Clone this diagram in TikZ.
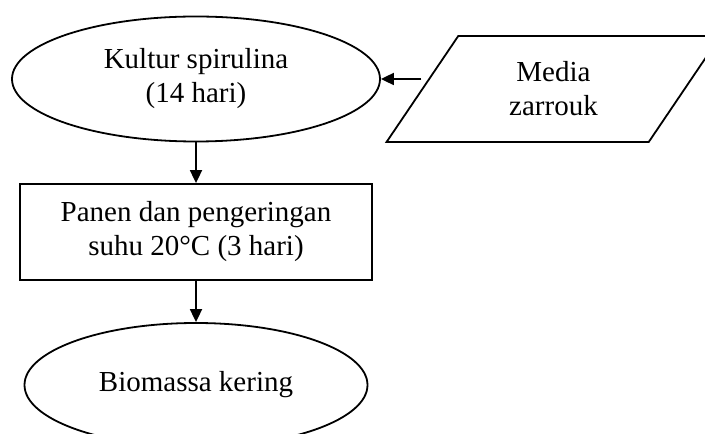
\documentclass[tikz,border=0pt]{standalone}
\usepackage{fontspec}
\setmainfont{Liberation Serif}
\usepackage{tikz}
\usetikzlibrary{shapes.geometric, arrows.meta}

\begin{document}
\begin{tikzpicture}[x = 1pt, y = 1pt, line width = 1.8pt,
        font = \fontsize{29}{34}\selectfont,
        oval/.style = {draw, ellipse, inner sep = 0pt, align = center},
        box/.style = {draw, rectangle, inner sep = 0pt, align = center},
        input/.style = {draw, trapezium, trapezium stretches = true, trapezium left angle = 58.5, trapezium right angle = 121.5, inner sep = 0pt, align = center},
        flow/.style = {-{Triangle[length = 13pt, width = 12pt]}}]
    \useasboundingbox (0, 0) rectangle (705, 434);
    \node[oval, minimum width = 368pt, minimum height = 125pt] (kultur) at (196, 355) {Kultur spirulina\\(14 hari)};
    \node[input, minimum width = 334pt, minimum height = 106pt] (media) at (553.5, 345) {Media\\zarrouk};
    \node[box, minimum width = 352pt, minimum height = 96pt] (panen) at (196, 202) {Panen dan pengeringan\\suhu 20°C (3 hari)};
    \node[oval, minimum width = 343pt, minimum height = 124pt] (biomassa) at (196, 49) {Biomassa kering};
    \draw[flow]
        (media.west |- kultur.east) -- (kultur.east);
    \draw[flow] (kultur.south) -- (panen.north);
    \draw[flow] (panen.south) -- (biomassa.north);
\end{tikzpicture}
\end{document}
